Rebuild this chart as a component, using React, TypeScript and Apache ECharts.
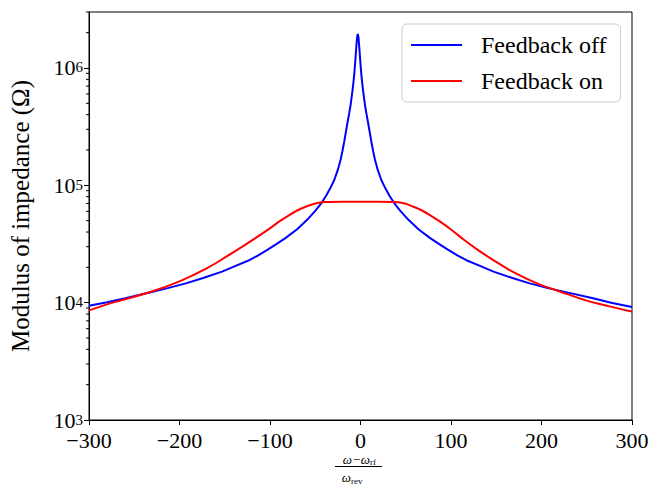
import React, { useEffect, useRef } from "react";
import * as echarts from "echarts";

// Frequency offset (ω − ω_rf)/ω_rev and impedance modulus (Ω)
const blueX = [
  -300, -280, -260, -233, -213, -193, -173, -153, -138, -123, -113, -103, -93, -83, -70, -59, -50, -43, -38, -33, -29, -25, -22, -20, -18, -16, -14, -12.5, -11, -9, -8, -7, -6, -5.25, -4.5, -3.75,
  -3,
  -2.25, -1.5, -0.75, 0, 1, 2, 3, 5, 6.5, 8, 10, 12, 14, 16, 19, 23, 27, 32, 37, 44, 53, 64, 77, 87, 97, 107, 117, 132, 147, 167, 187, 207, 227, 257, 277, 300,
];
const blueZ = [
  9.4e3, 10.1e3, 10.9e3, 12.2e3, 13.3e3, 14.6e3, 16.3e3, 18.4e3, 20.6e3, 23e3, 25.3e3, 28.2e3, 31.5e3, 35.5e3, 42.2e3, 50.8e3, 60.5e3, 71e3, 81.5e3, 96e3, 111e3, 136e3, 165e3, 195e3, 235e3, 290e3, 355e3, 410e3, 480e3, 630e3, 730e3, 870e3, 1.08e6, 1.3e6, 1.56e6, 1.83e6,
  1.95e6,
  1.83e6, 1.56e6, 1.3e6, 1.08e6, 870e3, 730e3, 630e3, 480e3, 410e3, 355e3, 290e3, 235e3, 195e3, 165e3, 136e3, 111e3, 96e3, 81.5e3, 71e3, 60.5e3, 50.8e3, 42.2e3, 35.5e3, 31.5e3, 28.2e3, 25.3e3, 23e3, 20.6e3, 18.4e3, 16.3e3, 14.6e3, 13.3e3, 12.3e3, 10.9e3, 10e3, 9.2e3,
];

const redX = [-300, -270, -234, -200, -170, -147, -125, -103, -90, -80, -70, -60, -50, -40, -20, 0, 20, 38, 49, 58, 68, 78, 88, 100, 115, 130, 145, 170, 195, 221, 250, 275, 300];
const redZ = [8.6e3, 10.2e3, 12.2e3, 15.2e3, 19.6e3, 25e3, 32e3, 41.5e3, 49e3, 55e3, 61e3, 66e3, 70e3, 72e3, 72.5e3, 72.5e3, 72.5e3, 72e3, 70e3, 66e3, 61e3, 55e3, 49e3, 42e3, 34e3, 28e3, 23.5e3, 18e3, 14.6e3, 12.4e3, 10.4e3, 9.3e3, 8.4e3];

const seriesNames = ["Feedback off", "Feedback on"];
const xTickValues = [-300, -200, -100, 0, 100, 200, 300];
const yMajorTicks = [1e3, 1e4, 1e5, 1e6];
const yMinorTicks = [
  2e3, 3e3, 4e3, 5e3, 6e3, 7e3, 8e3, 9e3,
  2e4, 3e4, 4e4, 5e4, 6e4, 7e4, 8e4, 9e4,
  2e5, 3e5, 4e5, 5e5, 6e5, 7e5, 8e5, 9e5,
  2e6, 3e6,
];

const FONT = "'Liberation Serif', 'DejaVu Serif', serif";

export default function App() {
  const ref = useRef<HTMLDivElement>(null);

  useEffect(() => {
    if (!ref.current) return;
    const chart = echarts.init(ref.current, undefined, { renderer: "svg" });
    const zip = (xs: number[], ys: number[]) => xs.map((x, i) => [x, ys[i]]);

    chart.setOption({
      animation: false,
      backgroundColor: "#fff",
      grid: {
        left: 84,
        right: 20,
        top: 12,
        bottom: 65,
        show: true,
        borderColor: "#000",
        borderWidth: 1,
        backgroundColor: "transparent",
      },
      legend: {
        data: seriesNames,
        orient: "vertical",
        left: 402,
        top: 24,
        padding: [9, 14, 9, 9],
        itemWidth: 51,
        itemHeight: 2,
        itemGap: 12,
        icon: "rect",
        borderColor: "#cccccc",
        borderWidth: 1,
        borderRadius: 5,
        backgroundColor: "#fff",
        textStyle: {
          fontFamily: FONT,
          fontSize: 24,
          color: "#000",
          padding: [0, 0, 0, 14],
          lineHeight: 22,
        },
      },
      xAxis: {
        type: "value",
        min: -300,
        max: 300,
        interval: 100,
        splitLine: { show: false },
        axisLine: { onZero: false, lineStyle: { color: "#000", width: 1 } },
        axisTick: { inside: false, length: 5, lineStyle: { color: "#000" }, customValues: xTickValues },
        axisLabel: {
          customValues: xTickValues,
          fontFamily: FONT,
          fontSize: 22,
          color: "#000",
          margin: 12,
          lineHeight: 16,
          formatter: (v: number) => (v < 0 ? "\u2212" + Math.abs(v) : String(v)),
        },
      },
      yAxis: {
        type: "log",
        logBase: 10,
        min: 1000,
        max: 3e6,
        name: "Modulus of impedance (\u03A9)",
        nameLocation: "middle",
        nameGap: 56,
        nameTextStyle: { fontFamily: FONT, fontSize: 25, color: "#000" },
        splitLine: { show: false },
        axisLine: { onZero: false, lineStyle: { color: "#000", width: 1 } },
        axisTick: { inside: false, length: 5, lineStyle: { color: "#000" }, customValues: yMajorTicks },
        axisLabel: {
          customValues: yMajorTicks,
          margin: 6,
          formatter: (v: number) => {
            const e = Math.round(Math.log10(v));
            if (Math.abs(v - Math.pow(10, e)) > 1e-6 * v) return "";
            return `{b|10}{s|${e}}`;
          },
          rich: {
            b: { fontFamily: FONT, fontSize: 22, color: "#000", lineHeight: 16 },
            s: { fontFamily: FONT, fontSize: 15, color: "#000", verticalAlign: "top", lineHeight: 10 },
          },
        },
      },
      series: [
        {
          name: seriesNames[0],
          type: "line",
          data: zip(blueX, blueZ),
          showSymbol: false,
          symbol: "none",
          color: "#0000ff",
          lineStyle: { color: "#0000ff", width: 2 },
          z: 3,
        },
        {
          name: seriesNames[1],
          type: "line",
          data: zip(redX, redZ),
          showSymbol: false,
          symbol: "none",
          smooth: 0.35,
          color: "#ff0000",
          lineStyle: { color: "#ff0000", width: 2 },
          z: 4,
        },
        {
          name: "minorTicks",
          type: "custom",
          silent: true,
          clip: false,
          z: 5,
          data: yMinorTicks.map((v) => [-300, v]),
          encode: { x: 0, y: 1 },
          renderItem: (params: any, api: any) => {
            const p = api.coord([api.value(0), api.value(1)]);
            return {
              type: "line",
              shape: { x1: p[0] - 3, y1: p[1], x2: p[0], y2: p[1] },
              style: { stroke: "#000", lineWidth: 1 },
            };
          },
        },
      ],
      graphic: [
        { type: "text", x: 370, y: 459, style: { text: "\u03C9\u2212\u03C9", font: `italic 13px ${FONT}`, fill: "#000", align: "right", verticalAlign: "middle", textAlign: "right", textVerticalAlign: "middle" } },
        { type: "text", x: 370, y: 462, style: { text: "rf", font: `9px ${FONT}`, fill: "#000", align: "left", verticalAlign: "middle", textAlign: "left", textVerticalAlign: "middle" } },
        { type: "line", shape: { x1: 335, y1: 466.5, x2: 382, y2: 466.5 }, style: { stroke: "#000", lineWidth: 1 } },
        { type: "text", x: 351, y: 477.5, style: { text: "\u03C9", font: `italic 13px ${FONT}`, fill: "#000", align: "right", verticalAlign: "middle", textAlign: "right", textVerticalAlign: "middle" } },
        { type: "text", x: 351, y: 480.5, style: { text: "rev", font: `9px ${FONT}`, fill: "#000", align: "left", verticalAlign: "middle", textAlign: "left", textVerticalAlign: "middle" } },
      ],
    });

    return () => chart.dispose();
  }, []);

  return (
    <div
      ref={ref}
      style={{ position: "fixed", left: 0, top: 0, width: 652, height: 485 }}
    />
  );
}
